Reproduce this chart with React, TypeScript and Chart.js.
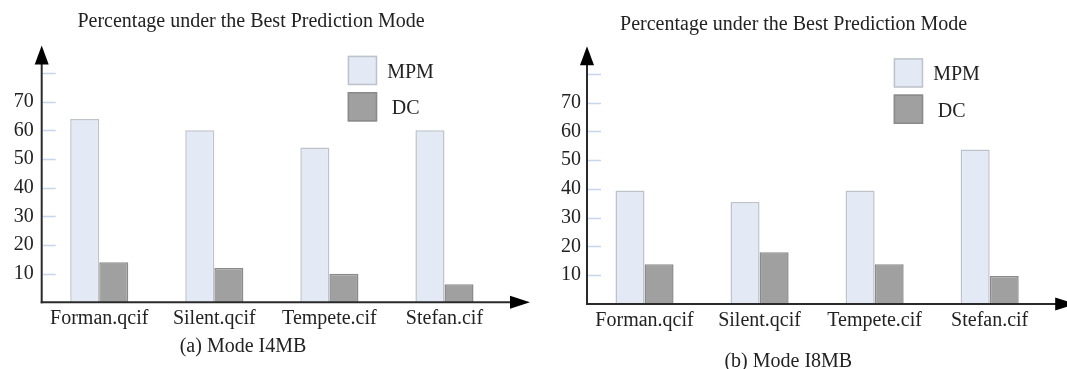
import React, { useEffect, useRef } from 'react';
import { Chart, registerables } from 'chart.js';

Chart.register(...registerables);

// ---------- data ----------
const CATEGORIES = ['Forman.qcif', 'Silent.qcif', 'Tempete.cif', 'Stefan.cif'];
const SERIES_NAMES = ['MPM', 'DC'];
const I4MB_MPM = [64, 60, 54, 60];
const I4MB_DC = [14, 12, 10, 6.3];
const I8MB_MPM = [39.5, 35.5, 39.5, 53.7];
const I8MB_DC = [13.8, 18, 13.8, 9.7];
const Y_TICK_MARKS = [10, 20, 30, 40, 50, 60, 70, 80];
const Y_LABELED = [10, 20, 30, 40, 50, 60, 70];
const Y_MIN = 0;
const Y_MAX = 90;
const CHART_TITLE = 'Percentage under the Best Prediction Mode';
const CAPTION_A = '(a) Mode I4MB';
const CAPTION_B = '(b) Mode I8MB';

// ---------- styles ----------
const FONT = "'Liberation Serif', 'Times New Roman', serif";
const TEXT = '#222222';
const MPM_FILL = '#E4EAF5';
const MPM_BORDER = '#BEC2C9';
const DC_FILL = '#A0A0A0';
const DC_BORDER = '#8A8A8A';
const TICK_MARK = '#C6D6EF';

type Panel = {
  width: number;
  mpm: number[];
  dc: number[];
  caption: string;
  axisWidth: number;
  padRight: number;
  padBottom: number;
  titlePadTop: number;
  titlePadBottom: number;
  yLabelPad: number;
  xLabelPad: number;
  captionX: number;
  captionY: number;
  legendDx: number;
  legendDy: number;
};

const PANELS: Panel[] = [
  {
    width: 540, mpm: I4MB_MPM, dc: I4MB_DC, caption: CAPTION_A,
    axisWidth: 41.7, padRight: 38, padBottom: 36.7,
    titlePadTop: 10, titlePadBottom: 10.4,
    yLabelPad: 8, xLabelPad: 4,
    captionX: 243, captionY: 346.5,
    legendDx: 306, legendDy: 11.3,
  },
  {
    width: 527, mpm: I8MB_MPM, dc: I8MB_DC, caption: CAPTION_B,
    axisWidth: 47, padRight: 19.8, padBottom: 35,
    titlePadTop: 13.2, titlePadBottom: 8,
    yLabelPad: 6, xLabelPad: 5,
    captionX: 248.3, captionY: 361.5,
    legendDx: 306.7, legendDy: 13,
  },
];

function makePlugins(p: Panel) {
  const axes = {
    id: 'arrowAxes',
    afterDatasetsDraw(chart: any) {
      const { ctx, chartArea } = chart;
      const y = chart.scales.y;
      const { left, right, top, bottom } = chartArea;
      ctx.save();
      // short tick marks inside the plot
      ctx.strokeStyle = TICK_MARK;
      ctx.lineWidth = 1.5;
      Y_TICK_MARKS.forEach((v) => {
        const py = Math.round(y.getPixelForValue(v)) + 0.5;
        ctx.beginPath();
        ctx.moveTo(left + 1, py);
        ctx.lineTo(left + 14, py);
        ctx.stroke();
      });
      // axis lines
      ctx.strokeStyle = '#2a2a2a';
      ctx.lineWidth = 2;
      const yTip = top + 1;
      const xTip = right + 28;
      ctx.beginPath();
      ctx.moveTo(left, bottom + 1);
      ctx.lineTo(left, yTip + 16);
      ctx.stroke();
      ctx.beginPath();
      ctx.moveTo(left - 1, bottom);
      ctx.lineTo(xTip - 18, bottom);
      ctx.stroke();
      // arrow heads
      ctx.fillStyle = '#000';
      ctx.beginPath();
      ctx.moveTo(left, yTip);
      ctx.lineTo(left - 7, yTip + 19);
      ctx.lineTo(left + 7, yTip + 19);
      ctx.closePath();
      ctx.fill();
      ctx.beginPath();
      ctx.moveTo(xTip, bottom);
      ctx.lineTo(xTip - 20, bottom - 6.5);
      ctx.lineTo(xTip - 20, bottom + 6.5);
      ctx.closePath();
      ctx.fill();
      ctx.restore();
    },
  };
  const legend = {
    id: 'boxLegend',
    afterDraw(chart: any) {
      const { ctx, chartArea } = chart;
      const x0 = chartArea.left + p.legendDx;
      const y0 = chartArea.top + p.legendDy;
      const size = 29.5;
      const gap = 36.3;
      ctx.save();
      chart.data.datasets.forEach((ds: any, i: number) => {
        const by = y0 + i * gap;
        ctx.fillStyle = ds.backgroundColor;
        ctx.fillRect(x0, by, size, size);
        ctx.strokeStyle = ds.borderColor;
        ctx.lineWidth = 1.5;
        ctx.strokeRect(x0 + 0.75, by + 0.75, size - 1.5, size - 1.5);
        ctx.fillStyle = TEXT;
        ctx.font = `20px ${FONT}`;
        ctx.textBaseline = 'middle';
        ctx.textAlign = 'left';
        ctx.fillText(ds.label, x0 + size + 10 + i * 4.5, by + size / 2 + 2);
      });
      ctx.restore();
    },
  };
  const caption = {
    id: 'caption',
    afterDraw(chart: any) {
      const { ctx } = chart;
      ctx.save();
      ctx.fillStyle = TEXT;
      ctx.font = `20px ${FONT}`;
      ctx.textAlign = 'center';
      ctx.textBaseline = 'middle';
      ctx.fillText(p.caption, p.captionX, p.captionY);
      ctx.restore();
    },
  };
  return [axes, legend, caption];
}

function BarPanel({ panel }: { panel: Panel }) {
  const ref = useRef<HTMLCanvasElement | null>(null);
  useEffect(() => {
    if (!ref.current) return;
    const p = panel;
    const chart = new Chart(ref.current, {
      type: 'bar',
      data: {
        labels: CATEGORIES,
        datasets: [
          {
            label: SERIES_NAMES[0],
            data: p.mpm,
            backgroundColor: MPM_FILL,
            borderColor: MPM_BORDER,
            borderWidth: 1.5,
            categoryPercentage: 0.505,
            barPercentage: 1,
          },
          {
            label: SERIES_NAMES[1],
            data: p.dc,
            backgroundColor: DC_FILL,
            borderColor: DC_BORDER,
            borderWidth: 1.5,
            categoryPercentage: 0.505,
            barPercentage: 1,
          },
        ],
      },
      options: {
        responsive: false,
        animation: false,
        devicePixelRatio: 1,
        layout: { padding: { left: 0, right: p.padRight, top: 0, bottom: p.padBottom } },
        plugins: {
          legend: { display: false },
          tooltip: { enabled: false },
          title: {
            display: true,
            text: CHART_TITLE,
            color: TEXT,
            font: { family: FONT, size: 20, weight: 'normal', lineHeight: 1.2 },
            padding: { top: p.titlePadTop, bottom: p.titlePadBottom },
          },
        },
        scales: {
          x: {
            grid: { display: false, drawTicks: false },
            border: { display: false },
            ticks: {
              color: TEXT,
              padding: p.xLabelPad,
              font: { family: FONT, size: 20, lineHeight: 1.2 },
              maxRotation: 0,
              autoSkip: false,
            },
            afterFit: (s: any) => { s.height = 30; },
          },
          y: {
            min: Y_MIN,
            max: Y_MAX,
            grid: { display: false, drawTicks: false },
            border: { display: false },
            ticks: {
              stepSize: 10,
              color: TEXT,
              padding: p.yLabelPad,
              font: { family: FONT, size: 20, lineHeight: 1.2 },
              callback: (v: any) => (Y_LABELED.includes(Number(v)) ? String(v) : ''),
            },
            afterFit: (s: any) => { s.width = p.axisWidth; },
          },
        },
      },
      plugins: makePlugins(p),
    } as any);
    return () => chart.destroy();
  }, [panel]);
  return <canvas ref={ref} width={panel.width} height={369} style={{ display: 'block', width: panel.width, height: 369 }} />;
}

export default function App() {
  return (
    <div
      style={{
        position: 'absolute',
        left: 0,
        top: 0,
        width: 1067,
        height: 369,
        background: '#fff',
        display: 'flex',
        overflow: 'hidden',
      }}
    >
      {PANELS.map((p, i) => (
        <BarPanel key={i} panel={p} />
      ))}
    </div>
  );
}
